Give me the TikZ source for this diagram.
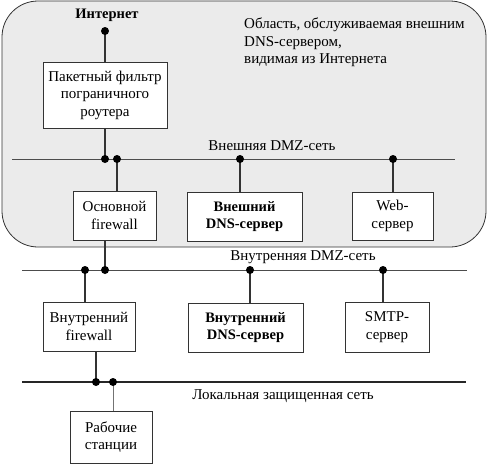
\documentclass[tikz,border=0pt]{standalone}
\usepackage{fontspec}
\setmainfont{Liberation Serif}
\usetikzlibrary{positioning}

\begin{document}
\begin{tikzpicture}[x=1pt, y=-1pt,
        font=\fontsize{15}{17.5}\selectfont,
        box/.style={draw=black!80, fill=white, align=center, inner sep=2pt},
        boldbox/.style={box, font=\fontsize{14.5}{17.5}\selectfont\bfseries},
        net/.style={draw=black!70, line width=0.6pt},
        lan/.style={draw=black!85, line width=1.1pt},
        wire/.style={draw=black!80, line width=1.2pt},
        thinwire/.style={draw=black!55, line width=0.8pt}]

        \useasboundingbox (0,0) rectangle (487,463);

        % area seen from the Internet
        \draw[draw=black!80, fill=black!8, line width=0.8pt, rounded corners=36pt]
        (2,1) rectangle (486,247);

        \node[anchor=north west, align=left, inner sep=0pt] (area) at (244,18)
        {Область, обслуживаемая внешним\\DNS-сервером,\\видимая из Интернета};

        \node[font=\fontsize{14.5}{17.5}\selectfont\bfseries] (inet) at (107,15) {Интернет};

        % #######################################

        \node[box, minimum width=124pt, minimum height=66pt] (router) at (105,95)
        {Пакетный фильтр\\пограничного\\роутера};

        \node[box, minimum width=83pt, minimum height=49pt] (fwout) at (114.5,215.5)
        {Основной\\firewall};
        \node[boldbox, minimum width=115pt, minimum height=49pt] (dnsout) at (244.5,216.5)
        {Внешний\\DNS-сервер};
        \node[box, minimum width=81pt, minimum height=48pt] (web) at (392.5,216)
        {Web-\\сервер};

        \node[box, minimum width=92pt, minimum height=49pt] (fwin) at (89,326.5)
        {Внутренний\\firewall};
        \node[boldbox, minimum width=115pt, minimum height=49pt] (dnsin) at (245.5,327.5)
        {Внутренний\\DNS-сервер};
        \node[box, minimum width=84pt, minimum height=50pt] (smtp) at (387,327)
        {SMTP-\\сервер};

        \node[box, minimum width=82pt, minimum height=52pt] (ws) at (111,437)
        {Рабочие\\станции};

        % #######################################

        \coordinate (extL) at (12,159);
        \coordinate (extR) at (455,159);
        \coordinate (intL) at (22,270);
        \coordinate (intR) at (467,270);
        \coordinate (lanL) at (22,382);
        \coordinate (lanR) at (466,382);

        \draw[net] (extL) -- (extR);
        \draw[net] (intL) -- (intR);
        \draw[lan] (lanL) -- (lanR);

        \node (extlbl) at (272,146) {Внешняя DMZ-сеть};
        \node (intlbl) at (303,257) {Внутренняя DMZ-сеть};
        \node (lanlbl) at (283,396) {Локальная защищенная сеть};

        % #######################################

        \coordinate (pInet) at (105,31);
        \coordinate (pExt1) at (105,159);
        \coordinate (pExt2) at (117,159);
        \coordinate (pExt3) at (240,159);
        \coordinate (pExt4) at (393,159);
        \coordinate (pInt1) at (85,270);
        \coordinate (pInt2) at (105,270);
        \coordinate (pInt3) at (250,270);
        \coordinate (pInt4) at (383,270);
        \coordinate (pLan1) at (96,382);
        \coordinate (pLan2) at (113,382);

        \draw[wire] (pInet) -- (pInet |- router.north);
        \draw[wire] (pExt1) -- (pExt1 |- router.south);
        \draw[wire] (pExt2) -- (pExt2 |- fwout.north);
        \draw[wire] (pExt3) -- (pExt3 |- dnsout.north);
        \draw[wire] (pExt4) -- (pExt4 |- web.north);
        \draw[wire] (pInt2) -- (pInt2 |- fwout.south);
        \draw[wire] (pInt1) -- (pInt1 |- fwin.north);
        \draw[wire] (pInt3) -- (pInt3 |- dnsin.north);
        \draw[wire] (pInt4) -- (pInt4 |- smtp.north);
        \draw[wire] (pLan1) -- (pLan1 |- fwin.south);
        \draw[thinwire] (pLan2) -- (pLan2 |- ws.north);

        \foreach \p in {pInet,pExt1,pExt2,pExt3,pExt4,pInt1,pInt2,pInt3,pInt4,pLan1,pLan2}
            \fill (\p) circle (4pt);

    \end{tikzpicture}
\end{document}
